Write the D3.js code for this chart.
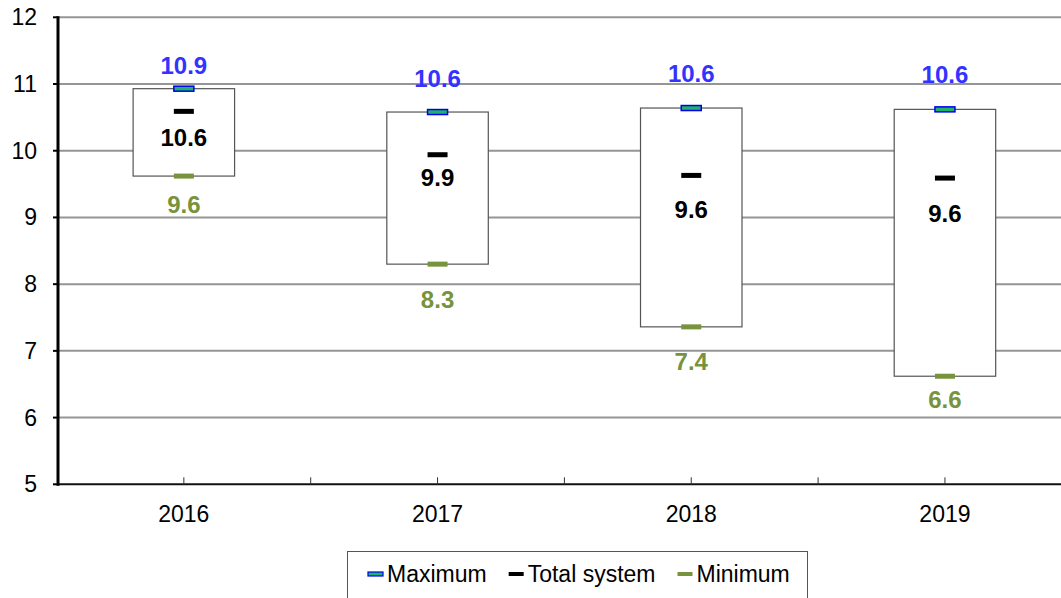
<!DOCTYPE html>
<html>
<head>
<meta charset="utf-8">
<script src="https://cdn.jsdelivr.net/npm/d3@7"></script>
<style>
  html, body { margin: 0; padding: 0; background: #fff; }
  svg { display: block; font-family: "Liberation Sans", Arial, sans-serif; }
</style>
</head>
<body>
<div id="chart"></div>
<script>
const years = ['2016', '2017', '2018', '2019'];
const maximum = [10.93, 10.58, 10.64, 10.62];
const totalSystem = [10.59, 9.94, 9.63, 9.59];
const minimum = [9.62, 8.30, 7.36, 6.62];
const yTicks = [5, 6, 7, 8, 9, 10, 11, 12];

// label nudges (px from the marker, baseline) - labels were hand placed in the original
const maxNudge = [-15, -25, -26, -26];
const totalNudge = [35, 31, 43, 44];
const minNudge = [37, 44, 43, 32];

const width = 1061, height = 598;
const svg = d3.select('#chart').append('svg')
  .attr('width', width)
  .attr('height', height);

const x = d3.scaleBand().domain(years).range([57, 57 + 4 * 253.7]);
const y = d3.scaleLinear().domain([5, 12]).range([484.3, 17.3]);

const fmt = d3.format('.1f');

// gridlines
svg.append('g')
  .selectAll('line')
  .data(yTicks.filter(t => t > 5))
  .join('line')
  .attr('x1', 58).attr('x2', width)
  .attr('y1', d => y(d)).attr('y2', d => y(d))
  .attr('stroke', '#959595')
  .attr('stroke-width', 2);

// boxes (min to max)
const boxW = x.bandwidth() * 0.4;
svg.append('g')
  .selectAll('rect')
  .data(years)
  .join('rect')
  .attr('x', d => x(d) + x.bandwidth() / 2 - boxW / 2)
  .attr('y', (d, i) => y(maximum[i]))
  .attr('width', boxW)
  .attr('height', (d, i) => y(minimum[i]) - y(maximum[i]))
  .attr('fill', '#fff')
  .attr('stroke', '#555')
  .attr('stroke-width', 1.2);

// x axis
svg.append('line')
  .attr('x1', 57).attr('x2', width)
  .attr('y1', y(5)).attr('y2', y(5))
  .attr('stroke', '#111').attr('stroke-width', 2);

// x ticks at centers and boundaries (pointing inward)
const xTickPos = [];
years.forEach(d => {
  xTickPos.push(x(d) + x.bandwidth() / 2);
  xTickPos.push(x(d) + x.bandwidth());
});
svg.append('g')
  .selectAll('line')
  .data(xTickPos)
  .join('line')
  .attr('x1', d => d).attr('x2', d => d)
  .attr('y1', y(5)).attr('y2', y(5) - 7)
  .attr('stroke', '#333').attr('stroke-width', 1);

svg.append('g')
  .selectAll('text')
  .data(years)
  .join('text')
  .attr('x', d => x(d) + x.bandwidth() / 2)
  .attr('y', 522)
  .attr('text-anchor', 'middle')
  .attr('font-size', 23)
  .attr('fill', '#000')
  .text(d => d);

// y axis
const yAxis = svg.append('g').attr('transform', 'translate(58,0)');
yAxis.append('line')
  .attr('x1', 0).attr('x2', 0)
  .attr('y1', y(12) - 1).attr('y2', y(5) + 1.5)
  .attr('stroke', '#000').attr('stroke-width', 3);
yAxis.selectAll('line.tick')
  .data(yTicks)
  .join('line')
  .attr('class', 'tick')
  .attr('x1', -5).attr('x2', 0)
  .attr('y1', d => y(d)).attr('y2', d => y(d))
  .attr('stroke', '#000').attr('stroke-width', 2);
yAxis.selectAll('text')
  .data(yTicks)
  .join('text')
  .attr('x', -21)
  .attr('y', d => y(d) + 8)
  .attr('text-anchor', 'end')
  .attr('font-size', 23)
  .attr('fill', '#000')
  .text(d => d);

// markers
const mW = 20, mH = 5;
const cx = d => x(d) + x.bandwidth() / 2;

function drawMarkers(values, fill, stroke) {
  svg.append('g')
    .selectAll('rect')
    .data(years)
    .join('rect')
    .attr('x', d => cx(d) - mW / 2)
    .attr('y', (d, i) => y(values[i]) - mH / 2)
    .attr('width', mW)
    .attr('height', mH)
    .attr('fill', fill)
    .attr('stroke', stroke || 'none')
    .attr('stroke-width', 1.5);
}
drawMarkers(minimum, '#77933c');
drawMarkers(totalSystem, '#000');
drawMarkers(maximum, '#1db36b', '#0000ee');

function drawLabels(values, nudge, color) {
  svg.append('g')
    .selectAll('text')
    .data(years)
    .join('text')
    .attr('x', d => cx(d))
    .attr('y', (d, i) => y(values[i]) + nudge[i])
    .attr('text-anchor', 'middle')
    .attr('font-size', 24)
    .attr('font-weight', 'bold')
    .attr('fill', color)
    .text((d, i) => fmt(values[i]));
}
drawLabels(maximum, maxNudge, '#3333ff');
drawLabels(totalSystem, totalNudge, '#000');
drawLabels(minimum, minNudge, '#77933c');

// legend
const legend = svg.append('g');
legend.append('rect')
  .attr('x', 347.5).attr('y', 551.5)
  .attr('width', 460).attr('height', 60)
  .attr('fill', '#fff')
  .attr('stroke', '#555').attr('stroke-width', 1);

const legendItems = [
  { label: 'Maximum', fill: '#1db36b', stroke: '#0000ee' },
  { label: 'Total system', fill: '#000' },
  { label: 'Minimum', fill: '#77933c' }
];
let lx = 368;
legendItems.forEach(item => {
  legend.append('rect')
    .attr('x', lx).attr('y', 572)
    .attr('width', 15).attr('height', 4)
    .attr('fill', item.fill)
    .attr('stroke', item.stroke || 'none')
    .attr('stroke-width', 1.2);
  const t = legend.append('text')
    .attr('x', lx + 19).attr('y', 582)
    .attr('font-size', 23)
    .attr('fill', '#000')
    .text(item.label);
  lx = lx + 19 + t.node().getComputedTextLength() + 22;
});
</script>
</body>
</html>
